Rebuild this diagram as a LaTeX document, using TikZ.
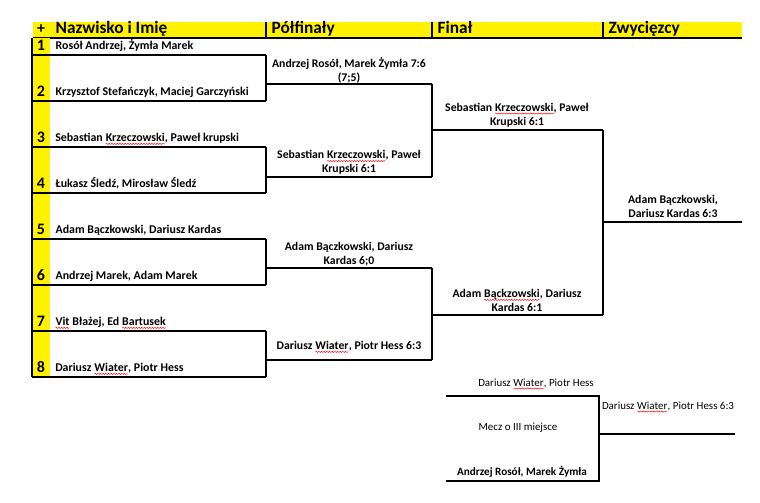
\documentclass[tikz,border=0pt]{standalone}
\usepackage{fontspec}
\setmainfont{Carlito}
\usetikzlibrary{calc,decorations.pathmorphing}
% czerwone podkreslenie jak w korekcie pisowni
\newcommand\blad[1]{\tikz[baseline=(b.base)]{\node[inner sep=0pt,outer sep=0pt,anchor=base] (b) {#1};
  \draw[red,line width=0.35pt,decorate,decoration={snake,amplitude=0.45pt,segment length=2pt}]
    ([yshift=-1.8pt]b.base west) -- ([yshift=-1.8pt]b.base east);}}

\begin{document}
\begin{tikzpicture}[x=0.75pt,y=-0.75pt,line width=1pt,
  naglowek/.style={font=\bfseries\fontsize{13}{15}\selectfont,anchor=base west,inner sep=0pt},
  wiersz/.style={font=\bfseries\fontsize{8.9}{11}\selectfont,anchor=base west,inner sep=0pt},
  nr/.style={font=\bfseries\fontsize{12}{14}\selectfont,anchor=base,inner sep=0pt},
  mecz/.style={font=\bfseries\fontsize{8.8}{10.6}\selectfont,align=center,inner sep=0pt},
  maly/.style={font=\fontsize{8.2}{10}\selectfont,inner sep=0pt}]
  \useasboundingbox (0,0) rectangle (760,503);
  % naglowek
  \fill[yellow] (33,22) rectangle (742,38);
  \draw (33,38) -- (742,38);
  \foreach \x in {266,432,603}
    \draw (\x,22) -- (\x,38);
  \node[nr] (plus) at (41,33.5) {+};
  \node[naglowek] (hnaz) at (55,33.5) {Nazwisko i Imię};
  \node[naglowek] (hpol) at (271,33.5) {Półfinały};
  \node[naglowek] (hfin) at (437,33.5) {Finał};
  \node[naglowek] (hzwy) at (608,33.5) {Zwycięzcy};
  % kolumna z numerami
  \fill[yellow] (33,38) rectangle (50,377);
  \draw (32,38) -- (32,377);
  % pary
  \foreach \n/\tekst in {1/{Rosół Andrzej, Żymła Marek},
      2/{Krzysztof Stefańczyk, Maciej Garczyński},
      3/{Sebastian \blad{Krzeczowski}, Paweł krupski},
      4/{Łukasz Śledź, Mirosław Śledź},
      5/{Adam Bączkowski, Dariusz Kardas},
      6/{Andrzej Marek, Adam Marek},
      7/{\blad{Vit} Błażej, Ed \blad{Bartusek}},
      8/{Dariusz \blad{Wiater}, Piotr Hess}}{
    \pgfmathsetmacro\yy{55+46*(\n-1)}
    \coordinate (r\n) at (266,\yy);
    \draw (32,\yy) -- (r\n);
    \node[nr] (n\n) at (41,\yy-4.5) {\n};
    \node[wiersz] (g\n) at (55,\yy-5.5) {\tekst};
  }
  % polfinaly
  \coordinate (s1) at (432,84);
  \coordinate (s2) at (432,177);
  \coordinate (s3) at (432,268);
  \coordinate (s4) at (432,360);
  \draw (r1) -- (r2);
  \draw (r3) -- (r4);
  \draw (r5) -- (r6);
  \draw (r7) -- (r8);
  \draw (r1|-s1) -- (s1);
  \draw (r3|-s2) -- (s2);
  \draw (r5|-s3) -- (s3);
  \draw (r7|-s4) -- (s4);
  \node[mecz] (sf1) at (349,70.5) {Andrzej Rosół, Marek Żymła 7:6\\(7;5)};
  \node[mecz] (sf2) at (349,162.5) {Sebastian \blad{Krzeczowski}, Paweł\\Krupski 6:1};
  \node[mecz] (sf3) at (349,254) {Adam Bączkowski, Dariusz\\Kardas 6;0};
  \node[mecz] (sf4) at (349,347) {Dariusz \blad{Wiater}, Piotr Hess 6:3};
  % final
  \coordinate (f1) at (603,130);
  \coordinate (f2) at (603,315);
  \draw (s1) -- (s2);
  \draw (s3) -- (s4);
  \draw (s1|-f1) -- (f1);
  \draw (s3|-f2) -- (f2);
  \node[mecz] (fi1) at (517,115) {Sebastian \blad{Krzeczowski}, Paweł\\Krupski 6:1};
  \node[mecz] (fi2) at (517,300.5) {Adam \blad{Bąckzowski}, Dariusz\\Kardas 6:1};
  % zwyciezcy
  \coordinate (w) at (742,222);
  \draw (f1) -- (f2);
  \draw (f1|-w) -- (w);
  \node[mecz] (zw) at (673,206.5) {Adam Bączkowski,\\Dariusz Kardas 6:3};
  % mecz o III miejsce
  \coordinate (m1) at (446,396);
  \coordinate (m2) at (599,396);
  \coordinate (m3) at (599,481);
  \coordinate (m4) at (446,481);
  \coordinate (m5) at (735,434);
  \draw (m1) -- (m2) -- (m3) -- (m4);
  \draw (m2|-m5) -- (m5);
  \node[maly] (t1) at (536,384) {Dariusz \blad{Wiater}, Piotr Hess};
  \node[maly] (t2) at (518,428) {Mecz o III miejsce};
  \node[maly,font=\bfseries\fontsize{8.4}{10}\selectfont] (t3) at (522,472) {Andrzej Rosół, Marek Żymła};
  \node[maly] (t4) at (668,407) {Dariusz \blad{Wiater}, Piotr Hess 6:3};
\end{tikzpicture}
\end{document}
